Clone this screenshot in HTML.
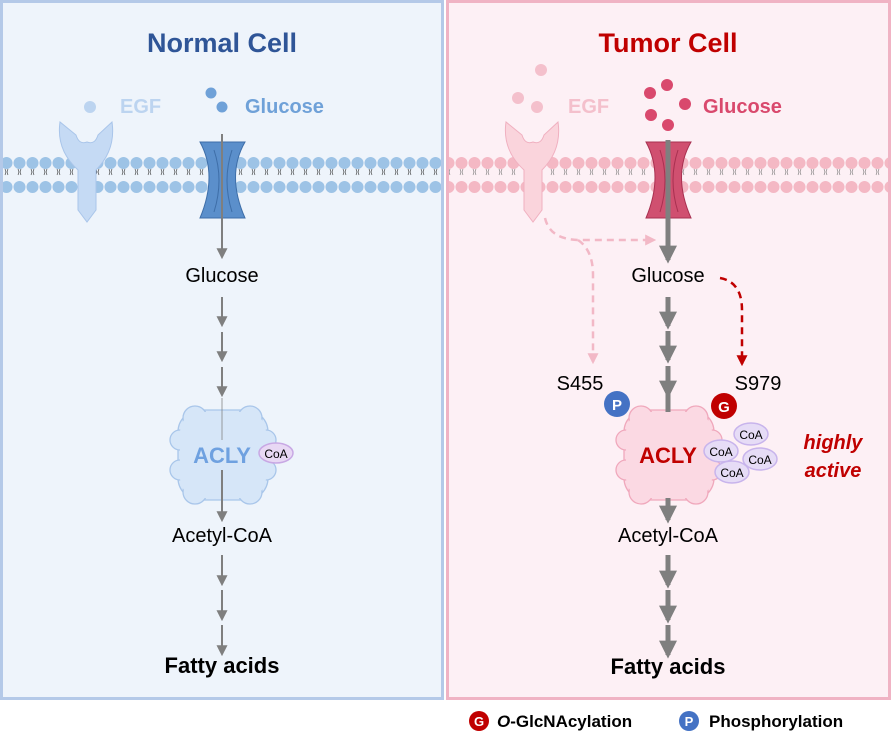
<!DOCTYPE html>
<html><head><meta charset="utf-8"><style>
body{margin:0;background:#fff;}
svg{display:block;font-family:"Liberation Sans",Arial,sans-serif;}
</style></head><body>
<svg width="893" height="744" viewBox="0 0 893 744" xmlns="http://www.w3.org/2000/svg">
<defs>
<marker id="ag" viewBox="0 0 10 10" refX="8" refY="5" markerUnits="userSpaceOnUse" markerWidth="11" markerHeight="11" orient="auto"><path d="M0,0L10,5L0,10z" fill="#7f7f7f"/></marker>
<marker id="agt" viewBox="0 0 10 10" refX="8" refY="5" markerUnits="userSpaceOnUse" markerWidth="18" markerHeight="18" orient="auto"><path d="M0,0L10,5L0,10z" fill="#7f7f7f"/></marker>
<marker id="ap" viewBox="0 0 10 10" refX="8" refY="5" markerUnits="userSpaceOnUse" markerWidth="11" markerHeight="11" orient="auto"><path d="M0,0L10,5L0,10z" fill="#f2b8c6"/></marker>
<marker id="ar" viewBox="0 0 10 10" refX="8" refY="5" markerUnits="userSpaceOnUse" markerWidth="11" markerHeight="11" orient="auto"><path d="M0,0L10,5L0,10z" fill="#c00000"/></marker>
<pattern id="memB" x="0" y="155" width="13" height="40" patternUnits="userSpaceOnUse">
<circle cx="6.5" cy="8" r="6" fill="#9dc3e6"/><circle cx="6.5" cy="32" r="6" fill="#9dc3e6"/>
<path d="M5,14 l1,3 -1,3 M8,14 l-1,3 1,3" stroke="#333" stroke-width="0.6" fill="none"/>
</pattern>
<pattern id="memP" x="0" y="155" width="13" height="40" patternUnits="userSpaceOnUse">
<circle cx="6.5" cy="8" r="6" fill="#f4b8c4"/><circle cx="6.5" cy="32" r="6" fill="#f4b8c4"/>
<path d="M5,14 l1,3 -1,3 M8,14 l-1,3 1,3" stroke="#777" stroke-width="0.6" fill="none"/>
</pattern>
</defs>
<rect x="1.5" y="1.5" width="441" height="697" fill="#eef4fb" stroke="#b4c9e8" stroke-width="3"/>
<rect x="447.5" y="1.5" width="442" height="697" fill="#fdf0f5" stroke="#f0b3c4" stroke-width="3"/>
<text x="222" y="52" text-anchor="middle" font-size="27" font-weight="bold" fill="#2f5597">Normal Cell</text>
<text x="668" y="52" text-anchor="middle" font-size="27" font-weight="bold" fill="#c00000">Tumor Cell</text>

<rect x="3" y="155" width="438" height="40" fill="url(#memB)"/>
<rect x="449" y="155" width="439" height="40" fill="url(#memP)"/>

<circle cx="90" cy="107" r="6" fill="#bcd4f0"/>
<text x="120" y="113" font-size="20" font-weight="bold" fill="#bcd4f0">EGF</text>
<path d="M60,122 Q56,150 78,170 L78,210 L87,222 L96,210 L96,170 Q116,150 112,122 L98,135 Q95,145 87,142 Q79,145 76,135 Z" fill="#c5daf4" stroke="#a9c5ea" stroke-width="1"/>
<circle cx="211" cy="93" r="5.5" fill="#6fa1d8"/><circle cx="222" cy="107" r="5.5" fill="#6fa1d8"/>
<text x="245" y="113" font-size="20" font-weight="bold" fill="#6fa1d8">Glucose</text>
<path d="M200,142 Q218,175 200,218 L245,218 Q226,175 245,142 Z" fill="#5b8fcb" stroke="#3e6ea8" stroke-width="1"/>
<path d="M214,150 Q224,180 214,212 M232,150 Q222,180 232,212" stroke="#3e6ea8" fill="none"/>
<line x1="222" y1="134" x2="222" y2="257" stroke="#7f7f7f" stroke-width="2" marker-end="url(#ag)"/>
<text x="222" y="282" text-anchor="middle" font-size="20">Glucose</text>
<g stroke="#7f7f7f" stroke-width="2">
<line x1="222" y1="297" x2="222" y2="325" marker-end="url(#ag)"/>
<line x1="222" y1="332" x2="222" y2="360" marker-end="url(#ag)"/>
<line x1="222" y1="367" x2="222" y2="395" marker-end="url(#ag)"/>
</g>
<g fill="#d6e6f8" stroke="#a9c6ea" stroke-width="1.3">
<rect x="178" y="410" width="90" height="90" rx="22"/>
<circle cx="195" cy="418" r="12"/><circle cx="250" cy="418" r="12"/><circle cx="195" cy="492" r="12"/><circle cx="250" cy="492" r="12"/>
<circle cx="180" cy="440" r="10"/><circle cx="180" cy="470" r="10"/><circle cx="266" cy="440" r="10"/><circle cx="266" cy="470" r="10"/>
</g>
<rect x="180" y="412" width="86" height="86" rx="20" fill="#d6e6f8"/>
<line x1="222" y1="398" x2="222" y2="440" stroke="#7f7f7f" stroke-width="1.5" opacity="0.5"/>
<line x1="222" y1="470" x2="222" y2="520" stroke="#7f7f7f" stroke-width="2" marker-end="url(#ag)"/>
<text x="222" y="463" text-anchor="middle" font-size="22" font-weight="bold" fill="#6fa1e0">ACLY</text>
<ellipse cx="276" cy="453" rx="17" ry="10" fill="#e8d8f4" stroke="#c8a8e4" stroke-width="1.5"/>
<text x="276" y="458" text-anchor="middle" font-size="12">CoA</text>
<text x="222" y="542" text-anchor="middle" font-size="20">Acetyl-CoA</text>
<g stroke="#7f7f7f" stroke-width="2">
<line x1="222" y1="555" x2="222" y2="584" marker-end="url(#ag)"/>
<line x1="222" y1="590" x2="222" y2="619" marker-end="url(#ag)"/>
<line x1="222" y1="625" x2="222" y2="654" marker-end="url(#ag)"/>
</g>
<text x="222" y="673" text-anchor="middle" font-size="22" font-weight="bold">Fatty acids</text>

<circle cx="541" cy="70" r="6" fill="#f4c0cc"/><circle cx="518" cy="98" r="6" fill="#f4c0cc"/><circle cx="537" cy="107" r="6" fill="#f4c0cc"/>
<text x="568" y="113" font-size="20" font-weight="bold" fill="#f4c0cc">EGF</text>
<path d="M506,122 Q502,150 524,170 L524,210 L533,222 L542,210 L542,170 Q562,150 558,122 L544,135 Q541,145 533,142 Q525,145 522,135 Z" fill="#fad4dc" stroke="#f0b0c0" stroke-width="1"/>
<circle cx="650" cy="93" r="6" fill="#d9496d"/><circle cx="667" cy="85" r="6" fill="#d9496d"/><circle cx="685" cy="104" r="6" fill="#d9496d"/><circle cx="651" cy="115" r="6" fill="#d9496d"/><circle cx="668" cy="125" r="6" fill="#d9496d"/>
<text x="703" y="113" font-size="20" font-weight="bold" fill="#d9496d">Glucose</text>
<path d="M646,142 Q664,175 646,218 L691,218 Q672,175 691,142 Z" fill="#d05070" stroke="#a83050" stroke-width="1"/>
<path d="M660,150 Q670,180 660,212 M678,150 Q668,180 678,212" stroke="#a83050" fill="none"/>
<line x1="668" y1="140" x2="668" y2="260" stroke="#7f7f7f" stroke-width="5" marker-end="url(#agt)"/>
<text x="668" y="282" text-anchor="middle" font-size="20">Glucose</text>
<g stroke="#7f7f7f" stroke-width="5">
<line x1="668" y1="297" x2="668" y2="326" marker-end="url(#agt)"/>
<line x1="668" y1="331" x2="668" y2="360" marker-end="url(#agt)"/>
<line x1="668" y1="366" x2="668" y2="395" marker-end="url(#agt)"/>
</g>
<path d="M545,218 Q550,240 580,240 L654,240" stroke="#f2b8c6" stroke-width="2.5" fill="none" stroke-dasharray="7,5" marker-end="url(#ap)"/>
<path d="M578,240 Q593,250 593,275 L593,362" stroke="#f2b8c6" stroke-width="2.5" fill="none" stroke-dasharray="7,5" marker-end="url(#ap)"/>
<path d="M720,278 Q742,282 742,310 L742,364" stroke="#c00000" stroke-width="2.5" fill="none" stroke-dasharray="7,5" marker-end="url(#ar)"/>
<text x="580" y="390" text-anchor="middle" font-size="20">S455</text>
<text x="758" y="390" text-anchor="middle" font-size="20">S979</text>
<g fill="#fbd9e3" stroke="#f0a8bc" stroke-width="1.3">
<rect x="624" y="410" width="90" height="90" rx="22"/>
<circle cx="641" cy="418" r="12"/><circle cx="696" cy="418" r="12"/><circle cx="641" cy="492" r="12"/><circle cx="696" cy="492" r="12"/>
<circle cx="626" cy="440" r="10"/><circle cx="626" cy="470" r="10"/><circle cx="712" cy="440" r="10"/><circle cx="712" cy="470" r="10"/>
</g>
<rect x="626" y="412" width="86" height="86" rx="20" fill="#fbd9e3"/>
<line x1="668" y1="395" x2="668" y2="412" stroke="#7f7f7f" stroke-width="5"/>
<line x1="668" y1="498" x2="668" y2="520" stroke="#7f7f7f" stroke-width="5" marker-end="url(#agt)"/>
<text x="668" y="463" text-anchor="middle" font-size="22" font-weight="bold" fill="#c00000">ACLY</text>
<circle cx="617" cy="404" r="13" fill="#4472c4"/><text x="617" y="410" text-anchor="middle" font-size="15" font-weight="bold" fill="#fff">P</text>
<circle cx="724" cy="406" r="13" fill="#c00000"/><text x="724" y="412" text-anchor="middle" font-size="15" font-weight="bold" fill="#fff">G</text>
<g fill="#e6dcf6" stroke="#c8b4ec" stroke-width="1.5">
<ellipse cx="751" cy="434" rx="17" ry="11"/><ellipse cx="721" cy="451" rx="17" ry="11"/><ellipse cx="760" cy="459" rx="17" ry="11"/><ellipse cx="732" cy="472" rx="17" ry="11"/>
</g>
<g font-size="12" text-anchor="middle">
<text x="751" y="439">CoA</text><text x="721" y="456">CoA</text><text x="760" y="464">CoA</text><text x="732" y="477">CoA</text>
</g>
<text x="833" y="449" text-anchor="middle" font-size="20" font-weight="bold" font-style="italic" fill="#c00000">highly</text>
<text x="833" y="477" text-anchor="middle" font-size="20" font-weight="bold" font-style="italic" fill="#c00000">active</text>
<text x="668" y="542" text-anchor="middle" font-size="20">Acetyl-CoA</text>
<g stroke="#7f7f7f" stroke-width="5">
<line x1="668" y1="555" x2="668" y2="585" marker-end="url(#agt)"/>
<line x1="668" y1="590" x2="668" y2="620" marker-end="url(#agt)"/>
<line x1="668" y1="625" x2="668" y2="655" marker-end="url(#agt)"/>
</g>
<text x="668" y="674" text-anchor="middle" font-size="22" font-weight="bold">Fatty acids</text>

<circle cx="479" cy="721" r="10" fill="#c00000"/><text x="479" y="726" text-anchor="middle" font-size="13" font-weight="bold" fill="#fff">G</text>
<text x="497" y="727" font-size="17" font-weight="bold"><tspan font-style="italic">O</tspan>-GlcNAcylation</text>
<circle cx="689" cy="721" r="10" fill="#4472c4"/><text x="689" y="726" text-anchor="middle" font-size="13" font-weight="bold" fill="#fff">P</text>
<text x="709" y="727" font-size="17" font-weight="bold">Phosphorylation</text>
</svg>
</body></html>
